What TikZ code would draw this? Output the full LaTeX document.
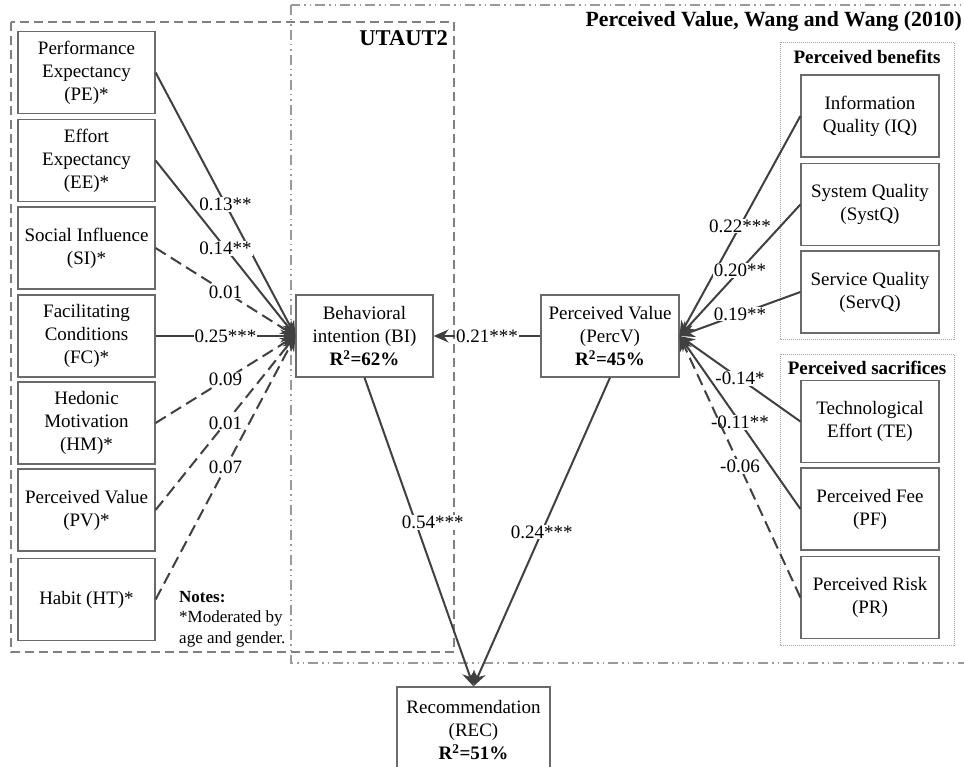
\documentclass[tikz,border=0pt]{standalone}
\usepackage{fontspec}
\setmainfont{Liberation Serif}
\usetikzlibrary{arrows.meta}
\definecolor{boxline}{HTML}{6A6A6A}
\definecolor{connc}{HTML}{404040}
\definecolor{grpA}{HTML}{808080}
\definecolor{grpB}{HTML}{9A9A9A}
\definecolor{grpC}{HTML}{A5A5A5}
\tikzset{
  box/.style={draw=boxline, line width=1.2pt, minimum width=137pt, minimum height=82pt,
    inner sep=2pt, align=center, font=\fontsize{19}{23}\selectfont},
  linkline/.style={draw=connc, line width=2pt, -{Stealth[length=15pt,width=13pt]}},
  nsline/.style={linkline, dash pattern=on 12pt off 6pt},
  coef/.style={fill=white, inner sep=1pt, font=\fontsize{19}{21}\selectfont},
  grptitle/.style={inner sep=0pt, font=\bfseries\fontsize{19}{22}\selectfont},
}
\begin{document}
\begin{tikzpicture}[x=1pt, y=-1pt]
\useasboundingbox (0,0) rectangle (964,767);
\clip (0,0) rectangle (964,767);
% group frames
\draw[grpA, line width=1.2pt, dash pattern=on 9pt off 5pt] (11,22) rectangle (454,652);
\draw[grpB, line width=1.2pt, dash pattern=on 10pt off 4pt on 1.5pt off 4pt on 1.5pt off 4pt] (291,5) rectangle (975,663);
\draw[grpC, line width=0.9pt, dash pattern=on 1pt off 1pt] (780,42) rectangle (954,339);
\draw[grpC, line width=0.9pt, dash pattern=on 1pt off 1pt] (780,354) rectangle (954,645);
% titles
\node[grptitle, anchor=east, font=\bfseries\fontsize{21.7}{24}\selectfont] (tpv) at (962,21) {Perceived Value, Wang and Wang (2010)};
\node[grptitle, anchor=east, font=\bfseries\fontsize{22.5}{25}\selectfont] (tut) at (448,38) {UTAUT2};
\node[grptitle] (tben) at (867,57) {Perceived benefits};
\node[grptitle] (tsac) at (867,368) {Perceived sacrifices};
\node[anchor=base west, align=left, inner sep=0pt, font=\fontsize{17}{20.5}\selectfont] (notes) at (179,643) {\textbf{Notes:}\\*Moderated by\\age and gender.};
% left constructs
\node[box] (PE) at (86.5,72.5) {Performance\\Expectancy\\(PE)*};
\node[box] (EE) at (86.5,160.5) {Effort\\Expectancy\\(EE)*};
\node[box] (SI) at (86.5,248) {Social Influence\\(SI)*};
\node[box] (FC) at (86.5,336) {Facilitating\\Conditions\\(FC)*};
\node[box] (HM) at (86.5,423) {Hedonic\\Motivation\\(HM)*};
\node[box] (PV) at (86.5,510) {Perceived Value\\(PV)*};
\node[box] (HT) at (86.5,599.5) {Habit (HT)*};
% central constructs
\node[box] (BI) at (364.5,336) {Behavioral\\intention (BI)\\\textbf{R\textsuperscript{2}=62\%}};
\node[box, minimum width=138pt] (PercV) at (610,336) {Perceived Value\\(PercV)\\\textbf{R\textsuperscript{2}=45\%}};
\node[box, minimum width=153pt, minimum height=86pt] (REC) at (473.5,730) {Recommendation\\(REC)\\\textbf{R\textsuperscript{2}=51\%}};
% right constructs
\node[box, minimum width=138pt] (IQ) at (870,116) {Information\\Quality (IQ)};
\node[box, minimum width=138pt] (SQ) at (870,204.5) {System Quality\\(SystQ)};
\node[box, minimum width=138pt] (SV) at (870,292) {Service Quality\\(ServQ)};
\node[box, minimum width=138pt] (TE) at (870,421.5) {Technological\\Effort (TE)};
\node[box, minimum width=138pt] (PF) at (870,509) {Perceived Fee\\(PF)};
\node[box, minimum width=138pt] (PR) at (870,597.5) {Perceived Risk\\(PR)};
% left paths
\draw[linkline] (PE.east) -- node[coef] {0.13**} (BI.west);
\draw[linkline] (EE.east) -- node[coef] {0.14**} (BI.west);
\draw[nsline] (SI.east) -- node[coef] {0.01} (BI.west);
\draw[linkline] (FC.east) -- node[coef] {0.25***} (BI.west);
\draw[nsline] (HM.east) -- node[coef] {0.09} (BI.west);
\draw[nsline] (PV.east) -- node[coef] {0.01} (BI.west);
\draw[nsline] (HT.east) -- node[coef] {0.07} (BI.west);
% right paths
\draw[linkline] (IQ.west) -- node[coef] {0.22***} (PercV.east);
\draw[linkline] (SQ.west) -- node[coef] {0.20**} (PercV.east);
\draw[linkline] (SV.west) -- node[coef] {0.19**} (PercV.east);
\draw[linkline] (TE.west) -- node[coef] {-0.14*} (PercV.east);
\draw[linkline] (PF.west) -- node[coef] {-0.11**} (PercV.east);
\draw[nsline] (PR.west) -- node[coef] {-0.06} (PercV.east);
% central paths
\draw[linkline] (PercV.west) -- node[coef] {0.21***} (BI.east);
\draw[linkline] (BI.south) -- node[coef, pos=0.47, xshift=17pt] {0.54***} (REC.north);
\draw[linkline] (PercV.south) -- node[coef] {0.24***} (REC.north);
\end{tikzpicture}
\end{document}
